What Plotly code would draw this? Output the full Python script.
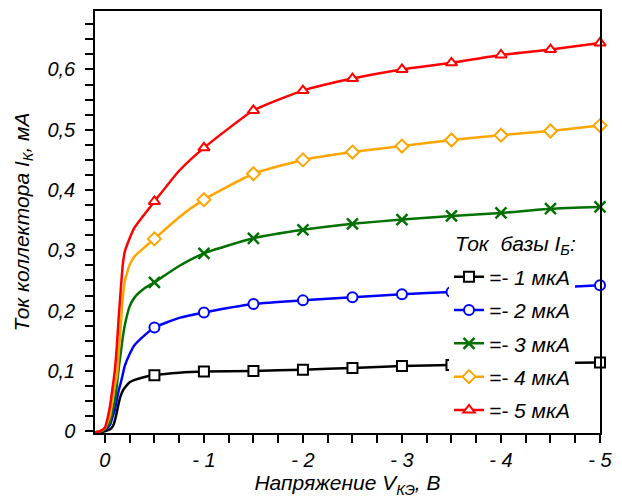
import plotly.graph_objects as go

# Collector voltage grid, V (dense near the knee)
v_ce = [0.1, 0.05, 0.0, -0.05, -0.08, -0.1, -0.12, -0.14, -0.16, -0.18, -0.2,
        -0.25, -0.3, -0.4, -0.5, -0.75, -1.0, -1.5, -2.0, -2.5, -3.0, -3.5,
        -4.0, -4.5, -5.0]

# Collector current, mA, for each base current
ic_1ua = [-0.002, -0.002, 0.0, 0.003, 0.008, 0.017, 0.031, 0.047, 0.059, 0.067, 0.072,
          0.081, 0.085, 0.090, 0.093, 0.097, 0.099, 0.100, 0.102, 0.105, 0.108, 0.110,
          0.111, 0.113, 0.114]
ic_2ua = [-0.002, -0.001, 0.002, 0.010, 0.025, 0.035, 0.052, 0.068, 0.080, 0.094, 0.108,
          0.128, 0.143, 0.159, 0.172, 0.188, 0.197, 0.211, 0.217, 0.222, 0.227, 0.231,
          0.235, 0.238, 0.242]
ic_3ua = [-0.002, -0.001, 0.003, 0.015, 0.035, 0.050, 0.075, 0.105, 0.130, 0.155, 0.175,
          0.207, 0.222, 0.237, 0.247, 0.274, 0.295, 0.320, 0.334, 0.344, 0.351, 0.357,
          0.362, 0.369, 0.372]
ic_4ua = [-0.002, 0.0, 0.005, 0.025, 0.055, 0.075, 0.090, 0.130, 0.175, 0.220, 0.248,
          0.276, 0.290, 0.305, 0.319, 0.355, 0.384, 0.427, 0.450, 0.463, 0.473, 0.483,
          0.491, 0.498, 0.507]
ic_5ua = [-0.002, 0.0, 0.006, 0.040, 0.075, 0.100, 0.140, 0.190, 0.235, 0.275, 0.297,
          0.320, 0.338, 0.360, 0.381, 0.432, 0.470, 0.532, 0.565, 0.585, 0.600, 0.611,
          0.624, 0.633, 0.644]

series_labels = ["=- 1 мкА", "=- 2 мкА", "=- 3 мкА", "=- 4 мкА", "=- 5 мкА"]
series_colors = ["#000000", "#0000ff", "#007000", "#ffa500", "#ff0000"]
series_symbols = ["square", "circle", "x-thin", "diamond", "triangle-up"]

x_tick_vals = [0, -1, -2, -3, -4, -5]
x_tick_text = ["0", "- 1", "- 2", "- 3", "- 4", "- 5"]
y_tick_vals = [0, 0.1, 0.2, 0.3, 0.4, 0.5, 0.6]
y_tick_text = ["0", "0,1", "0,2", "0,3", "0,4", "0,5", "0,6"]

FONT = "Liberation Sans, Arial, sans-serif"
series = [ic_1ua, ic_2ua, ic_3ua, ic_4ua, ic_5ua]

fig = go.Figure()
for ic, name, col, sym in zip(series, series_labels, series_colors, series_symbols):
    # markers every 0.5 V starting at -0.5 V
    mk = [(v, i) for v, i in zip(v_ce, ic) if v <= -0.5 and abs(v * 2 - round(v * 2)) < 1e-9]
    if sym == "x-thin":
        mstyle = dict(symbol=sym, size=11, color=col, line=dict(color=col, width=2.5))
    else:
        mstyle = dict(symbol=sym, size=10, color="white", line=dict(color=col, width=2))
    fig.add_trace(go.Scatter(x=v_ce, y=ic, mode="lines", showlegend=False,
                             line=dict(color=col, width=2.5, shape="spline", smoothing=0.5),
                             hoverinfo="skip"))
    fig.add_trace(go.Scatter(x=[p[0] for p in mk], y=[p[1] for p in mk], mode="markers",
                             marker=mstyle, showlegend=False, cliponaxis=False))
    fig.add_trace(go.Scatter(x=[None], y=[None], mode="lines+markers", name=name,
                             line=dict(color=col, width=2.5), marker=mstyle,
                             legendgroup=name))

axis_common = dict(showline=True, linecolor="black", linewidth=1.5, mirror=True,
                   ticks="outside", ticklen=8, tickwidth=1.5, tickcolor="black",
                   showgrid=False, zeroline=False,
                   tickfont=dict(family=FONT, size=20, color="black", style="italic"))

fig.update_xaxes(range=[0.1, -5.0], tickmode="array", tickvals=x_tick_vals,
                 ticktext=x_tick_text,
                 minor=dict(dtick=0.25, tick0=0, ticks="outside", ticklen=8,
                            tickwidth=1.5, tickcolor="black"),
                 title=dict(text="Напряжение V<sub>КЭ</sub>, В", standoff=6,
                            font=dict(family=FONT, size=21, color="black", style="italic")),
                 **axis_common)
fig.update_yaxes(range=[-0.003, 0.697], tickmode="array", tickvals=y_tick_vals,
                 ticktext=y_tick_text, ticklabelstandoff=6,
                 minor=dict(dtick=0.025, tick0=0, ticks="outside", ticklen=8,
                            tickwidth=1.5, tickcolor="black"),
                 title=dict(text="Ток коллектора I<sub>К</sub>, мА", standoff=12,
                            font=dict(family=FONT, size=21, color="black", style="italic")),
                 **axis_common)

# legend heading
fig.add_annotation(text="Ток  базы I<sub>Б</sub>:", xref="paper", yref="paper",
                   x=0.708, y=(433 - 244) / 424, xanchor="left", yanchor="middle",
                   showarrow=False,
                   font=dict(family=FONT, size=21, color="black", style="italic"))

fig.update_layout(
    width=622, height=502,
    margin=dict(l=95, r=13, t=9, b=69),
    paper_bgcolor="white", plot_bgcolor="white",
    font=dict(family=FONT, color="black", style="italic"),
    legend=dict(x=0.701, y=0.418, xanchor="left", yanchor="top",
                bgcolor="white", borderwidth=0, traceorder="grouped",
                tracegroupgap=3, itemwidth=30,
                font=dict(family=FONT, size=21, color="black", style="italic")),
)

fig.write_html("out.html")
